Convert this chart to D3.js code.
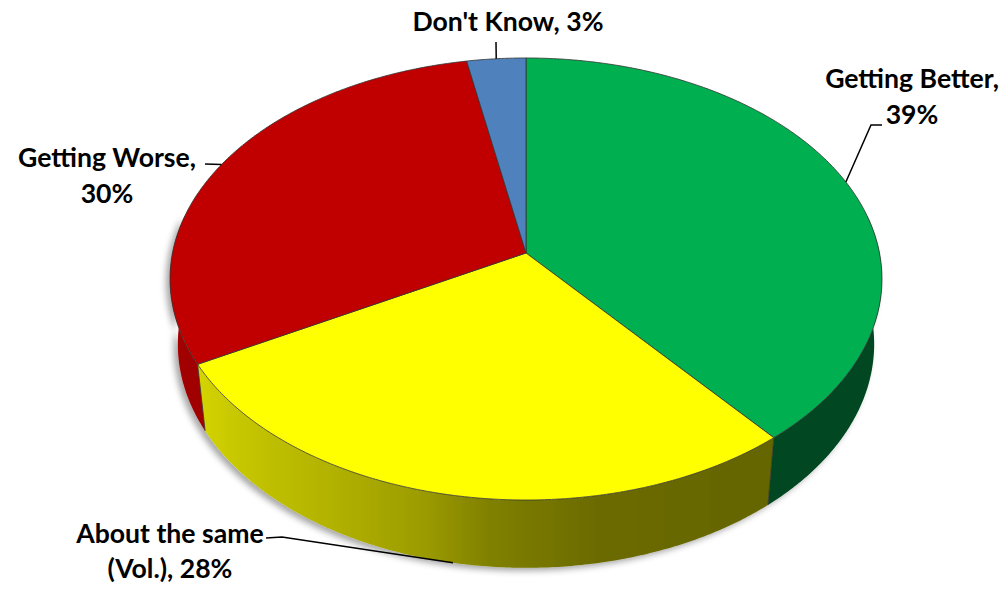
<!DOCTYPE html>
<html>
<head>
<meta charset="utf-8">
<script src="https://cdn.jsdelivr.net/npm/d3@7"></script>
<style>
  html, body { margin: 0; padding: 0; background: #ffffff; }
  svg { display: block; }
  text { font-family: Lato, "Open Sans", "Liberation Sans", sans-serif; font-weight: bold; fill: #000; }
</style>
</head>
<body>
<svg id="chart" width="1007" height="590"></svg>
<script>
// ---- data ----
const categories = ["Getting Better", "About the same (Vol.)", "Getting Worse", "Don't Know"];
const values = [39, 28, 30, 3];
const colors = ["#00b050", "#ffff00", "#c00000", "#4f81bd"];
const labelLines = [["Getting Better,", "39%"], ["About the same", "(Vol.), 28%"], ["Getting Worse,", "30%"], ["Don't Know, 3%"]];

// ---- layout / 3D camera ----
const cx = 526, cy = 253;      // screen position of the pie centre
const F = 2367;                // focal scale
const D = 6.696;               // camera distance (in radii)
const elev = Math.asin(0.6166);
const sinA = Math.sin(elev), cosA = Math.cos(elev);
const depth = 0.24;            // thickness (in radii)

function proj(theta, z, r = 1) {
  const X = r * Math.sin(theta), Y = -r * Math.cos(theta);
  const d = D - Y * cosA - z * sinA;
  return [cx + F * X / d, cy + F * (Y * sinA - z * cosA) / d];
}

const svg = d3.select("#chart");
const defs = svg.append("defs");
const filt = defs.append("filter").attr("id", "shadow")
  .attr("x", "-10%").attr("y", "-10%").attr("width", "120%").attr("height", "130%");
filt.append("feDropShadow").attr("dx", -4).attr("dy", 3).attr("stdDeviation", 3)
  .attr("flood-color", "#000").attr("flood-opacity", 0.35);

const pie = d3.pie().sort(null).value(d => d)(values);
const deg = Math.PI / 180;
const line = d3.line();

// lighting factor for the outer wall, by angle (degrees, clockwise from top)
const light = d3.scaleLinear()
  .domain([80, 150, 170, 185, 195, 210, 240, 280])
  .range([0.40, 0.40, 0.42, 0.50, 0.61, 0.70, 0.83, 0.86])
  .clamp(true);

// ---- side walls (one path per slice, horizontal gradient) ----
const wallG = svg.append("g").attr("filter", "url(#shadow)");
const walls = [];
pie.forEach((p, i) => {
  const a0 = Math.max(p.startAngle, 80 * deg), a1 = Math.min(p.endAngle, 280 * deg);
  if (a1 <= a0) return;
  const n = Math.max(2, Math.ceil((a1 - a0) / (0.5 * deg)));
  const top = [], bot = [], angs = [];
  for (let k = 0; k <= n; k++) {
    const a = a0 + (a1 - a0) * k / n;
    angs.push(a);
    top.push(proj(a, 0));
    bot.push(proj(a, -depth));
  }
  const xs = top.map(q => q[0]).concat(bot.map(q => q[0]));
  const xmin = d3.min(xs), xmax = d3.max(xs);
  const gid = "wg" + i;
  const g = defs.append("linearGradient").attr("id", gid)
    .attr("gradientUnits", "userSpaceOnUse")
    .attr("x1", xmin).attr("x2", xmax).attr("y1", 0).attr("y2", 0);
  const base = d3.rgb(colors[i]);
  const stops = angs.map((a, k) => {
    const f = light(a / deg);
    return {o: (top[k][0] - xmin) / (xmax - xmin), c: d3.rgb(base.r * f, base.g * f, base.b * f).formatHex()};
  }).sort((s, t) => s.o - t.o);
  g.selectAll("stop").data(stops).join("stop")
    .attr("offset", s => Math.max(0, Math.min(1, s.o))).attr("stop-color", s => s.c);
  walls.push({pts: top.concat(bot.reverse()), gid});
});
wallG.selectAll("path").data(walls).join("path")
  .attr("d", w => line(w.pts) + "Z")
  .attr("fill", w => "url(#" + w.gid + ")");

// slice borders on the wall
const borderAngles = pie.map(p => p.endAngle).filter(a => a > 80 * deg && a < 280 * deg);
svg.append("g").selectAll("line").data(borderAngles).join("line")
  .attr("x1", a => proj(a, 0)[0]).attr("y1", a => proj(a, 0)[1])
  .attr("x2", a => proj(a, -depth)[0]).attr("y2", a => proj(a, -depth)[1])
  .attr("stroke", "#3a3a2a").attr("stroke-width", 0.8);

// ---- top face ----
svg.append("g").selectAll("path").data(pie).join("path")
  .attr("d", p => {
    const pts = [[cx, cy]];
    const n = Math.max(2, Math.ceil((p.endAngle - p.startAngle) / (0.5 * deg)));
    for (let k = 0; k <= n; k++) {
      const a = p.startAngle + (p.endAngle - p.startAngle) * k / n;
      pts.push(proj(a, 0));
    }
    return line(pts) + "Z";
  })
  .attr("fill", (p, i) => colors[i])
  .attr("stroke", "#333")
  .attr("stroke-width", 0.8)
  .attr("stroke-linejoin", "round");

// ---- labels ----
const labelPos = [
  {x: 912, y: [88, 124]},
  {x: 170, y: [543, 578]},
  {x: 107, y: [167, 203]},
  {x: 508, y: [31]}
];
const targetW = [179, 184, 180, 187];
const lblG = svg.append("g");
const firstTexts = [];
labelLines.forEach((lines, i) => {
  lines.forEach((t, j) => {
    const el = lblG.append("text")
      .attr("x", labelPos[i].x).attr("y", labelPos[i].y[j])
      .attr("text-anchor", "middle").attr("font-size", 24).text(t);
    if (j === 0) firstTexts.push({el, i});
  });
});
let ratio = 0;
firstTexts.forEach(({el, i}) => { ratio += targetW[i] / el.node().getComputedTextLength(); });
ratio /= firstTexts.length;
lblG.selectAll("text").attr("font-size", 24 * ratio);

// ---- leader lines ----
const mid = p => (p.startAngle + p.endAngle) / 2;
const leaders = [
  [[882, 125], [871, 125], proj(mid(pie[0]), 0)],
  [[266, 538], [282, 537], proj(mid(pie[1]), -depth)],
  [[205, 164], proj(mid(pie[2]), 0)],
  [[496, 42], proj(mid(pie[3]), 0)]
];
svg.append("g").selectAll("path").data(leaders).join("path")
  .attr("d", d => line(d))
  .attr("fill", "none").attr("stroke", "#000").attr("stroke-width", 1.5);
</script>
</body>
</html>
